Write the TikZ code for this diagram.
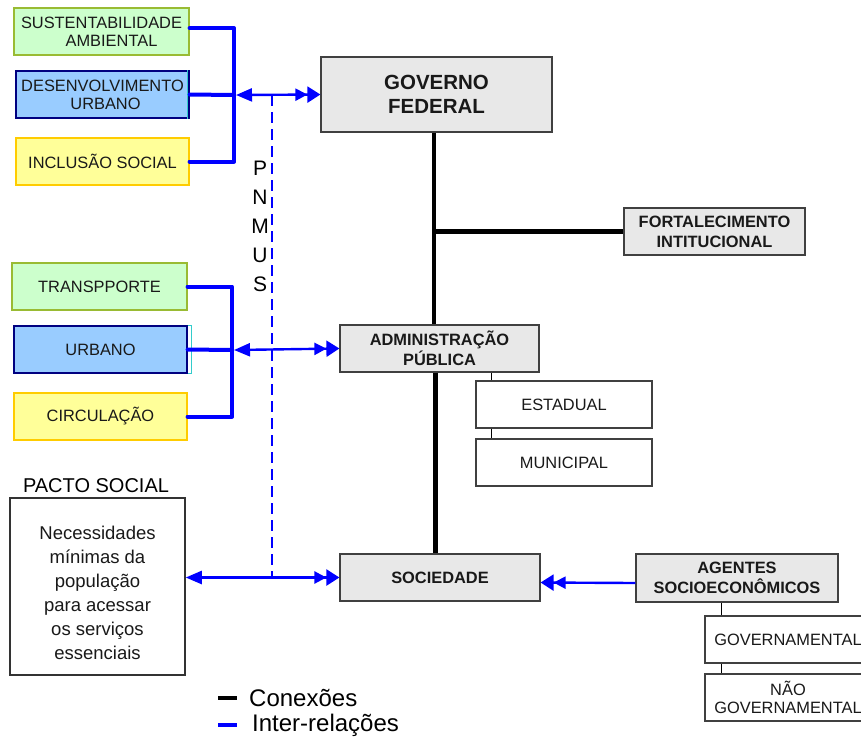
\documentclass[tikz,border=0pt]{standalone}
\usepackage{fontspec}
\setmainfont{Liberation Sans}
\usetikzlibrary{arrows.meta}
\definecolor{gfill}{RGB}{204,255,204}
\definecolor{gline}{RGB}{153,187,51}
\definecolor{bfill}{RGB}{153,204,255}
\definecolor{bline}{RGB}{0,0,128}
\definecolor{cline}{RGB}{51,204,204}
\definecolor{yfill}{RGB}{255,255,153}
\definecolor{yline}{RGB}{255,204,0}
\definecolor{grayfill}{RGB}{232,232,232}
\definecolor{grayline}{RGB}{64,64,64}
\definecolor{pblue}{RGB}{0,0,255}
\begin{document}
\begin{tikzpicture}[x=1pt,y=-1pt,
  base/.style={draw, inner sep=0pt, align=center, text=black!90,
    font=\fontsize{16.4}{18}\selectfont, line width=1.2pt},
  greenbox/.style={base, fill=gfill, draw=gline, minimum height=47pt},
  bluebox/.style={base, fill=bfill, draw=bline, minimum height=47pt},
  yellowbox/.style={base, fill=yfill, draw=yline, minimum height=47pt},
  graybox/.style={base, fill=grayfill, draw=grayline,
    font=\bfseries\fontsize{16.4}{20}\selectfont, minimum height=47pt},
  whitebox/.style={base, fill=white, draw=grayline, minimum height=47pt},
  br/.style={pblue, line width=4pt, line cap=round, line join=round},
  conn/.style={black, line width=4.5pt},
  thinc/.style={black, line width=1pt},
  ia/.style={pblue, line width=2.4pt,
    arrows={Triangle[length=16pt,width=13pt]-Triangle[length=12pt,width=12pt] Triangle[length=13pt,width=16pt]}},
  ione/.style={pblue, line width=2.4pt,
    arrows={-Triangle[length=12pt,width=12pt] Triangle[length=13pt,width=16pt]}},
  dsh/.style={pblue, line width=1.3pt, dash pattern=on 11pt off 6pt},
]
\useasboundingbox (0,0) rectangle (861,740);

% left boxes (top group)
\node[greenbox, minimum width=175pt] (sa) at (101.5,31.5) {SUSTENTABILIDADE\\\hspace*{20pt}AMBIENTAL};
\node[bluebox, minimum width=173pt] (du) at (102.5,94.5) {DESENVOLVIMENTO\\\hspace*{6pt}URBANO};
\node[yellowbox, minimum width=173pt] (is) at (102.5,161.5) {INCLUSÃO SOCIAL};
\draw[cline, line width=1pt] ([xshift=-2pt]du.north east) -- ([xshift=-2pt]du.south east);

% left boxes (middle group)
\node[greenbox, minimum width=175pt] (tr) at (99.5,286.5) {TRANSPPORTE};
\node[bluebox, minimum width=173pt] (ur) at (100.5,349.5) {URBANO};
\node[yellowbox, minimum width=173pt] (ci) at (100.5,416.5) {CIRCULAÇÃO};
\draw[cline, line width=1pt] (ur.north east) -- ++(4,0) -- ([xshift=4pt]ur.south east) -- (ur.south east);

% central hierarchy
\node[graybox, minimum width=231pt, minimum height=75pt,
  font=\bfseries\fontsize{20.5}{24}\selectfont] (gf) at (436.5,94.5) {GOVERNO\\FEDERAL};
\node[graybox, minimum width=181pt] (fort) at (714.5,231.5) {FORTALECIMENTO\\INTITUCIONAL};
\node[graybox, minimum width=199pt] (adm) at (439.5,348.5) {ADMINISTRAÇÃO\\PÚBLICA};
\node[whitebox, minimum width=176pt] (est) at (564,404.5) {ESTADUAL};
\node[whitebox, minimum width=176pt] (mun) at (564,462.5) {MUNICIPAL};
\node[graybox, minimum width=200pt] (soc) at (440,577.5) {SOCIEDADE};
\node[graybox, minimum width=202pt, minimum height=48pt] (ag) at (737,578) {AGENTES\\SOCIOECONÔMICOS};
\node[whitebox, minimum width=166pt] (gov) at (788,639.5) {GOVERNAMENTAL};
\node[whitebox, minimum width=166pt] (nao) at (788,697.5) {NÃO\\GOVERNAMENTAL};

% pacto social
\node[font=\fontsize{20}{24}\selectfont] (pt) at (96,486) {PACTO SOCIAL};
\node[whitebox, minimum width=175pt, minimum height=177pt, line width=1.5pt,
  draw=black!80] (pacto) at (97.5,586.5) {};
\node[align=center, inner sep=0pt, text=black!90, font=\fontsize{18.5}{24}\selectfont]
  (pactotext) at (97.5,592.5)
  {Necessidades\\mínimas da\\população\\para acessar\\os serviços\\essenciais};

% PNMUS
\node[font=\fontsize{21}{29}\selectfont, align=center, inner sep=0pt] (pn) at (260,226) {P\\N\\M\\U\\S};

% brackets
\coordinate (b1) at (234,95);
\coordinate (b2) at (232,350);
\draw[br] ([yshift=3.5pt]sa.east) -| (b1);
\draw[br] (is.east) -| (b1);
\draw[br] (du.east) -- (b1);
\draw[br] (tr.east) -| (b2);
\draw[br] (ci.east) -| (b2);
\draw[br] (ur.east) -- (b2);

% dashed line
\coordinate (d1) at (272,95);
\coordinate (d2) at (272,576);
\draw[dsh] (d1) -- (d2);

% inter-relation arrows
\draw[ia] ([xshift=2pt]b1) -- (gf.west);
\draw[ia] ([xshift=2pt]b2) -- (adm.west);
\draw[ia] (pacto.east |- soc.west) -- (soc.west);
\draw[ione] ([yshift=-5pt]ag.west) -- ([yshift=-5pt]soc.east);

% connections
\coordinate (j) at ([xshift=-2.5pt]gf.south |- fort.west);
\draw[conn] ([xshift=-2.5pt]gf.south) -- ([xshift=-2.5pt]gf.south |- adm.north);
\draw[conn] (j) -- (fort.west);
\draw[conn] ([xshift=-4pt]adm.south) -- ([xshift=-4pt]adm.south |- soc.north);
\draw[thinc] ([xshift=16pt]est.north west) -- ([xshift=16pt]est.north west |- adm.south);
\draw[thinc] ([xshift=16pt]est.south west) -- ([xshift=16pt]mun.north west);
\draw[thinc] ([xshift=17pt]gov.north west) -- ([xshift=17pt]gov.north west |- ag.south);
\draw[thinc] ([xshift=17pt]gov.south west) -- ([xshift=17pt]nao.north west);

% legend
\coordinate (la1) at (218,698);
\coordinate (la2) at (237,698);
\coordinate (lb1) at (218,725);
\coordinate (lb2) at (237,725);
\draw[black, line width=4pt] (la1) -- (la2);
\draw[pblue, line width=4pt] (lb1) -- (lb2);
\node[anchor=west, inner sep=0pt, font=\fontsize{24}{26}\selectfont] (lega) at (249,698) {Conexões};
\node[anchor=west, inner sep=0pt, font=\fontsize{24}{26}\selectfont] (legb) at (252,725) {Inter-relações};
\end{tikzpicture}
\end{document}
